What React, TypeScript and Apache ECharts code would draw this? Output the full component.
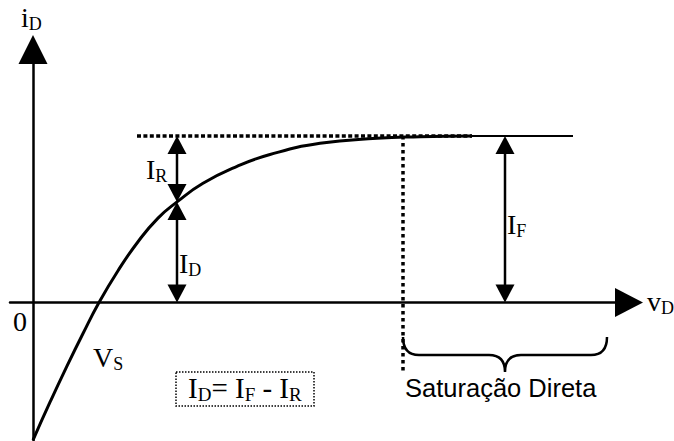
import React, { useEffect, useRef } from "react";
import * as echarts from "echarts";

// ---- data (normalised units: I_F = 1 on the current axis, v_D in arbitrary units) ----
const curveX = [0, 0.17, 0.33, 0.5, 0.66, 0.85, 1.05, 1.25, 1.44, 1.7, 2.04, 2.37, 2.87, 3.44, 3.87, 4.39];
const curveY = [-0.826, -0.599, -0.394, -0.186, 0, 0.191, 0.365, 0.507, 0.604, 0.716, 0.818, 0.889, 0.956, 0.986, 0.995, 1.0];
const saturationX = [4.39, 5.4];
const saturationY = [1.0, 1.0];
const dottedLevelX = [1.04, 4.39];
const dottedLevelY = [1.0, 1.0];
const saturationEdgeX = [3.7, 3.7];
const saturationEdgeY = [1.0, -0.417];
// arrows: [v, from, to]
const arrowV = [1.44, 1.44, 4.72];
const arrowFrom = [1.0, 0.604, 0.0];
const arrowTo = [0.604, 0.0, 1.0];
const xRange = [-0.23, 5.96];
const yRange = [-0.8318, 1.5195];

// ---- texts ----
const axisYLabel: [string, boolean][] = [["i", false], ["D", true]];
const axisXLabel: [string, boolean][] = [["v", false], ["D", true]];
const labelIR: [string, boolean][] = [["I", false], ["R", true]];
const labelID: [string, boolean][] = [["I", false], ["D", true]];
const labelIF: [string, boolean][] = [["I", false], ["F", true]];
const labelVS: [string, boolean][] = [["V", false], ["S", true]];
const labelZero: [string, boolean][] = [["0", false]];
const equation: [string, boolean][] = [["I", false], ["D", true], ["= I", false], ["F", true], [" - I", false], ["R", true]];
const regionText = "Saturação Direta";

const SERIF = '"Liberation Serif", "Times New Roman", serif';
const SANS = '"Liberation Sans", Arial, sans-serif';

const BRACE_D =
  "M403,337 Q403,355 419,355 L489,355 Q505,355 505,372 Q505,355 521,355 L591,355 Q607,355 607,337";
echarts.graphic.registerShape("brace", echarts.graphic.extendPath(BRACE_D, {}));

let measureCtx: CanvasRenderingContext2D | null = null;
function tw(text: string, size: number, family: string) {
  if (!measureCtx) measureCtx = document.createElement("canvas").getContext("2d");
  measureCtx!.font = `${size}px ${family}`;
  return measureCtx!.measureText(text).width;
}

function textEl(text: string, x: number, baseline: number, size: number, family: string, central: number) {
  return {
    type: "text",
    x,
    y: baseline - central * size,
    silent: true,
    style: {
      text,
      font: `${size}px ${family}`,
      fill: "#000",
      align: "left",
      verticalAlign: "middle",
      textAlign: "left",
      textVerticalAlign: "middle",
    },
  };
}

function subLabel(pieces: [string, boolean][], x: number, baseline: number, main = 28, sub = 18, drop = 3) {
  const out: any[] = [];
  let cx = x;
  for (const [t, isSub] of pieces) {
    const s = isSub ? sub : main;
    out.push(textEl(t, cx, baseline + (isSub ? drop : 0), s, SERIF, 0.3375));
    cx += tw(t, s, SERIF);
  }
  return out;
}

function buildOption() {
  const black = "#000";
  return {
    animation: false,
    backgroundColor: "#fff",
    grid: { left: 10, right: 45, top: 49.5, bottom: 0, containLabel: false },
    xAxis: {
      type: "value",
      min: xRange[0],
      max: xRange[1],
      axisLine: {
        show: true,
        onZero: true,
        symbol: ["none", "triangle"],
        symbolSize: [29, 28],
        lineStyle: { color: black, width: 2.5 },
      },
      axisTick: { show: false },
      axisLabel: { show: false },
      splitLine: { show: false },
    },
    yAxis: {
      type: "value",
      min: yRange[0],
      max: yRange[1],
      axisLine: {
        show: true,
        onZero: true,
        symbol: ["none", "triangle"],
        symbolSize: [29, 29],
        lineStyle: { color: black, width: 2.5 },
      },
      axisTick: { show: false },
      axisLabel: { show: false },
      splitLine: { show: false },
    },
    series: [
      {
        type: "line",
        data: dottedLevelX.map((x, i) => [x, dottedLevelY[i]]),
        showSymbol: false,
        silent: true,
        lineStyle: { color: black, width: 3.5, type: [4, 2.4] },
      },
      {
        type: "line",
        data: saturationEdgeX.map((x, i) => [x, saturationEdgeY[i]]),
        showSymbol: false,
        silent: true,
        lineStyle: { color: black, width: 3.5, type: [3.5, 3.5] },
      },
      {
        type: "line",
        data: curveX.map((x, i) => [x, curveY[i]]),
        smooth: 0.5,
        showSymbol: false,
        silent: true,
        lineStyle: { color: black, width: 3 },
      },
      {
        type: "line",
        data: saturationX.map((x, i) => [x, saturationY[i]]),
        showSymbol: false,
        silent: true,
        lineStyle: { color: black, width: 2.2 },
      },
      {
        type: "custom",
        silent: true,
        data: arrowV.map((v, i) => [v, arrowFrom[i], arrowTo[i]]),
        encode: { x: 0, y: [1, 2] },
        renderItem: (_params: any, api: any) => {
          const v = api.value(0);
          const p1 = api.coord([v, api.value(1)]);
          const p2 = api.coord([v, api.value(2)]);
          const top = p1[1] < p2[1] ? p1 : p2;
          const bot = p1[1] < p2[1] ? p2 : p1;
          const L = 18;
          const W = 9.5;
          return {
            type: "group",
            children: [
              {
                type: "line",
                shape: { x1: top[0], y1: top[1] + L - 1, x2: bot[0], y2: bot[1] - L + 1 },
                style: { stroke: black, lineWidth: 2.5 },
              },
              {
                type: "polygon",
                shape: { points: [[top[0], top[1]], [top[0] - W, top[1] + L], [top[0] + W, top[1] + L]] },
                style: { fill: black },
              },
              {
                type: "polygon",
                shape: { points: [[bot[0], bot[1]], [bot[0] - W, bot[1] - L], [bot[0] + W, bot[1] - L]] },
                style: { fill: black },
              },
            ],
          };
        },
      },
    ],
    graphic: [
      ...subLabel(axisYLabel, 21, 27),
      ...subLabel(axisXLabel, 647, 311),
      ...subLabel(labelIR, 146, 179),
      ...subLabel(labelID, 179, 273),
      ...subLabel(labelIF, 507, 234),
      ...subLabel(labelVS, 93, 367),
      ...subLabel(labelZero, 13, 331),
      ...subLabel(equation, 188, 398, 29, 19, 3),
      {
        type: "rect",
        silent: true,
        shape: { x: 176, y: 372, width: 138, height: 34 },
        style: { fill: "none", stroke: black, lineWidth: 1.5, lineDash: [1.5, 1.5] },
      },
      {
        type: "brace",
        silent: true,
        x: 0,
        y: 0,
        style: { fill: "none", stroke: black, lineWidth: 2.5 },
      },
      textEl(regionText, 405, 397, 25.5, SANS, 0.3465),
    ],
  };
}

export default function App() {
  const ref = useRef<HTMLDivElement>(null);
  useEffect(() => {
    if (!ref.current) return;
    const chart = echarts.init(ref.current, null, { renderer: "svg" });
    chart.setOption(buildOption() as any);
    return () => chart.dispose();
  }, []);
  return (
    <div
      ref={ref}
      style={{ position: "fixed", left: 0, top: 0, width: 674, height: 441, background: "#fff" }}
    />
  );
}
